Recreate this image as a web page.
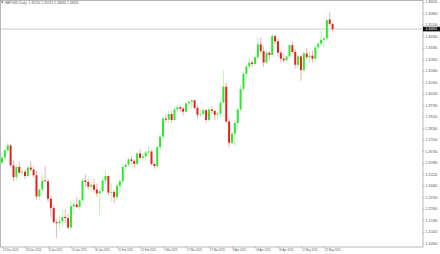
<!DOCTYPE html>
<html>
<head>
<meta charset="utf-8">
<script src="https://cdn.jsdelivr.net/npm/d3@7"></script>
<style>
  body { margin: 0; background: #fff; }
  text { font-family: 'Liberation Sans', Arial, sans-serif; }
</style>
</head>
<body>
<div id="chart"></div>
<script>
let symbolTitle = 'GBPUSD,Daily  1.35150 1.35213 1.34660 1.34811'

let dates = [
  '2024-12-13', '2024-12-16', '2024-12-17', '2024-12-18', '2024-12-19', '2024-12-20', '2024-12-23', '2024-12-24', '2024-12-26', '2024-12-27', '2024-12-30', '2024-12-31',
  '2025-01-02', '2025-01-03', '2025-01-06', '2025-01-07', '2025-01-08', '2025-01-09', '2025-01-10', '2025-01-13', '2025-01-14', '2025-01-15', '2025-01-16', '2025-01-17', '2025-01-20', '2025-01-21', '2025-01-22', '2025-01-23', '2025-01-24', '2025-01-27', '2025-01-28', '2025-01-29', '2025-01-30', '2025-01-31',
  '2025-02-03', '2025-02-04', '2025-02-05', '2025-02-06', '2025-02-07', '2025-02-10', '2025-02-11', '2025-02-12', '2025-02-13', '2025-02-14', '2025-02-17', '2025-02-18', '2025-02-19', '2025-02-20', '2025-02-21', '2025-02-24', '2025-02-25', '2025-02-26', '2025-02-27', '2025-02-28',
  '2025-03-03', '2025-03-04', '2025-03-05', '2025-03-06', '2025-03-07', '2025-03-10', '2025-03-11', '2025-03-12', '2025-03-13', '2025-03-14', '2025-03-17', '2025-03-18', '2025-03-19', '2025-03-20', '2025-03-21', '2025-03-24', '2025-03-25', '2025-03-26', '2025-03-27', '2025-03-28', '2025-03-31',
  '2025-04-01', '2025-04-02', '2025-04-03', '2025-04-04', '2025-04-07', '2025-04-08', '2025-04-09', '2025-04-10', '2025-04-11', '2025-04-14', '2025-04-15', '2025-04-16', '2025-04-17', '2025-04-18', '2025-04-21', '2025-04-22', '2025-04-23', '2025-04-24', '2025-04-25', '2025-04-28', '2025-04-29', '2025-04-30',
  '2025-05-01', '2025-05-02', '2025-05-05', '2025-05-06', '2025-05-07', '2025-05-08', '2025-05-09', '2025-05-12', '2025-05-13', '2025-05-14', '2025-05-15', '2025-05-16', '2025-05-19', '2025-05-20', '2025-05-21', '2025-05-22', '2025-05-23', '2025-05-26', '2025-05-27'
]

let open = [
  1.2598, 1.2632, 1.2680, 1.2712, 1.2580, 1.2502, 1.2570, 1.2532, 1.2538, 1.2510, 1.2566, 1.2552,
  1.2515, 1.2375, 1.2420, 1.2480, 1.2475, 1.2360, 1.2298, 1.2205, 1.2198, 1.2210, 1.2240, 1.2232, 1.2170, 1.2310, 1.2322, 1.2305, 1.2350, 1.2480, 1.2470, 1.2440, 1.2452, 1.2420,
  1.2395, 1.2410, 1.2480, 1.2510, 1.2400, 1.2405, 1.2370, 1.2445, 1.2475, 1.2570, 1.2585, 1.2620, 1.2610, 1.2590, 1.2660, 1.2630, 1.2640, 1.2665, 1.2672, 1.2590,
  1.2575, 1.2700, 1.2770, 1.2890, 1.2882, 1.2920, 1.2880, 1.2950, 1.2965, 1.2955, 1.2935, 1.2990, 1.3000, 1.3010, 1.2960, 1.2915, 1.2920, 1.2945, 1.2880, 1.2950, 1.2940,
  1.2915, 1.2922, 1.2995, 1.3100, 1.2870, 1.2730, 1.2790, 1.2860, 1.2950, 1.3085, 1.3185, 1.3235, 1.3260, 1.3250, 1.3295, 1.3380, 1.3335, 1.3260, 1.3325, 1.3310, 1.3435, 1.3400,
  1.3325, 1.3285, 1.3275, 1.3300, 1.3375, 1.3330, 1.3245, 1.3300, 1.3210, 1.3320, 1.3295, 1.3305, 1.3285, 1.3360, 1.3385, 1.3410, 1.3420, 1.3545, 1.3515
]

let high = [
  1.2668, 1.2690, 1.2730, 1.2722, 1.2612, 1.2582, 1.2605, 1.2562, 1.2552, 1.2580, 1.2608, 1.2575,
  1.2545, 1.2425, 1.2525, 1.2575, 1.2490, 1.2375, 1.2320, 1.2225, 1.2250, 1.2290, 1.2290, 1.2260, 1.2345, 1.2350, 1.2370, 1.2360, 1.2495, 1.2522, 1.2490, 1.2480, 1.2490, 1.2460,
  1.2420, 1.2500, 1.2550, 1.2515, 1.2460, 1.2420, 1.2460, 1.2490, 1.2585, 1.2600, 1.2630, 1.2640, 1.2620, 1.2670, 1.2690, 1.2660, 1.2680, 1.2710, 1.2680, 1.2600,
  1.2710, 1.2790, 1.2905, 1.2920, 1.2945, 1.2940, 1.2960, 1.2985, 1.2980, 1.2970, 1.3000, 1.3010, 1.3015, 1.3015, 1.2980, 1.2950, 1.2960, 1.2950, 1.2965, 1.2970, 1.2945,
  1.2940, 1.3010, 1.3207, 1.3125, 1.2895, 1.2800, 1.2880, 1.2960, 1.3110, 1.3200, 1.3245, 1.3295, 1.3275, 1.3305, 1.3423, 1.3423, 1.3370, 1.3340, 1.3335, 1.3445, 1.3445, 1.3420,
  1.3340, 1.3320, 1.3310, 1.3380, 1.3400, 1.3350, 1.3310, 1.3310, 1.3330, 1.3355, 1.3330, 1.3340, 1.3370, 1.3400, 1.3470, 1.3440, 1.3560, 1.3593, 1.3521
]

let low = [
  1.2582, 1.2610, 1.2660, 1.2570, 1.2475, 1.2480, 1.2520, 1.2515, 1.2490, 1.2500, 1.2540, 1.2500,
  1.2352, 1.2350, 1.2410, 1.2470, 1.2340, 1.2240, 1.2200, 1.2100, 1.2160, 1.2180, 1.2200, 1.2160, 1.2165, 1.2260, 1.2300, 1.2290, 1.2340, 1.2440, 1.2420, 1.2410, 1.2400, 1.2370,
  1.2250, 1.2400, 1.2460, 1.2380, 1.2340, 1.2330, 1.2350, 1.2400, 1.2450, 1.2550, 1.2570, 1.2590, 1.2560, 1.2580, 1.2620, 1.2610, 1.2610, 1.2640, 1.2580, 1.2560,
  1.2560, 1.2680, 1.2760, 1.2860, 1.2860, 1.2860, 1.2870, 1.2930, 1.2930, 1.2910, 1.2925, 1.2970, 1.2955, 1.2950, 1.2890, 1.2900, 1.2910, 1.2860, 1.2870, 1.2920, 1.2880,
  1.2880, 1.2900, 1.2990, 1.2860, 1.2700, 1.2715, 1.2708, 1.2820, 1.2940, 1.3070, 1.3160, 1.3220, 1.3230, 1.3240, 1.3280, 1.3320, 1.3230, 1.3250, 1.3270, 1.3300, 1.3380, 1.3300,
  1.3260, 1.3260, 1.3270, 1.3290, 1.3320, 1.3220, 1.3220, 1.3140, 1.3190, 1.3280, 1.3255, 1.3260, 1.3260, 1.3340, 1.3370, 1.3360, 1.3410, 1.3500, 1.3466
]

let close = [
  1.2632, 1.2680, 1.2712, 1.2580, 1.2502, 1.2570, 1.2532, 1.2538, 1.2510, 1.2566, 1.2552, 1.2515,
  1.2375, 1.2420, 1.2480, 1.2475, 1.2360, 1.2298, 1.2205, 1.2198, 1.2210, 1.2240, 1.2232, 1.2170, 1.2310, 1.2322, 1.2305, 1.2350, 1.2480, 1.2470, 1.2440, 1.2452, 1.2420, 1.2395,
  1.2410, 1.2480, 1.2510, 1.2400, 1.2405, 1.2370, 1.2445, 1.2475, 1.2570, 1.2585, 1.2620, 1.2610, 1.2590, 1.2660, 1.2630, 1.2640, 1.2665, 1.2672, 1.2590, 1.2575,
  1.2700, 1.2770, 1.2890, 1.2882, 1.2920, 1.2880, 1.2950, 1.2965, 1.2955, 1.2935, 1.2990, 1.3000, 1.3010, 1.2960, 1.2915, 1.2920, 1.2945, 1.2880, 1.2950, 1.2940, 1.2915,
  1.2922, 1.2995, 1.3100, 1.2870, 1.2730, 1.2790, 1.2860, 1.2950, 1.3085, 1.3185, 1.3235, 1.3260, 1.3250, 1.3295, 1.3380, 1.3335, 1.3260, 1.3325, 1.3310, 1.3435, 1.3400, 1.3325,
  1.3285, 1.3275, 1.3300, 1.3375, 1.3330, 1.3245, 1.3300, 1.3210, 1.3320, 1.3295, 1.3305, 1.3285, 1.3360, 1.3385, 1.3410, 1.3420, 1.3540, 1.3515, 1.3481
]

let tickDates = [
  '2024-12-13', '2024-12-26', '2025-01-08', '2025-01-20', '2025-01-30', '2025-02-11', '2025-02-21', '2025-03-05',
  '2025-03-17', '2025-03-27', '2025-04-08', '2025-04-18', '2025-04-30', '2025-05-12', '2025-05-22'
]

let priceTicks = [
  1.3662, 1.3586, 1.3510, 1.3434, 1.3358, 1.3282, 1.3206, 1.3130, 1.3054, 1.2978, 1.2902,
  1.2826, 1.2750, 1.2674, 1.2598, 1.2522, 1.2446, 1.2370, 1.2294, 1.2218, 1.2142, 1.2066
]

let lastPrice = 1.34811

let width = 440
let height = 254
let plot = { left: 0.5, top: 0.5, right: 423, bottom: 247 }

let upColor = '#2fe82f'
let downColor = '#ea1f1f'
let frameColor = '#9a9a9a'
let textColor = '#555'

let svg = d3
  .select('#chart')
  .append('svg')
  .attr('width', width)
  .attr('height', height)

let xPositionScale = d3
  .scalePoint()
  .domain(dates)
  .range([2, 332.6])

let yPositionScale = d3
  .scaleLinear()
  .domain([priceTicks[0], priceTicks[priceTicks.length - 1]])
  .range([1.7, 243.2])

let parseDate = d3.timeParse('%Y-%m-%d')
let formatDate = d3.timeFormat('%-d %b %Y')

let bars = dates.map((d, i) => ({
  date: d,
  open: open[i],
  high: high[i],
  low: low[i],
  close: close[i]
}))

// frame
svg
  .append('rect')
  .attr('x', plot.left)
  .attr('y', plot.top)
  .attr('width', plot.right - plot.left)
  .attr('height', plot.bottom - plot.top)
  .attr('fill', 'none')
  .attr('stroke', frameColor)
  .attr('stroke-width', 0.7)

// current price line
svg
  .append('line')
  .attr('x1', plot.left)
  .attr('x2', plot.right)
  .attr('y1', yPositionScale(lastPrice))
  .attr('y2', yPositionScale(lastPrice))
  .attr('stroke', '#b4b4b4')
  .attr('stroke-width', 0.7)

let candles = svg
  .selectAll('.candle')
  .data(bars)
  .enter()
  .append('g')
  .attr('class', 'candle')

candles
  .append('line')
  .attr('x1', d => xPositionScale(d.date))
  .attr('x2', d => xPositionScale(d.date))
  .attr('y1', d => yPositionScale(d.high))
  .attr('y2', d => yPositionScale(d.low))
  .attr('stroke', d => (d.close >= d.open ? upColor : downColor))
  .attr('stroke-width', 0.6)
  .attr('opacity', 0.6)

candles
  .append('rect')
  .attr('x', d => xPositionScale(d.date) - 1)
  .attr('width', 2)
  .attr('y', d => yPositionScale(Math.max(d.open, d.close)))
  .attr('height', d =>
    Math.max(0.7, Math.abs(yPositionScale(d.open) - yPositionScale(d.close)))
  )
  .attr('fill', d => (d.close >= d.open ? upColor : downColor))

// price axis
let yAxis = d3
  .axisRight(yPositionScale)
  .tickValues(priceTicks)
  .tickSize(1.5)
  .tickPadding(1)
  .tickFormat(d3.format('.5f'))

svg
  .append('g')
  .attr('transform', `translate(${plot.right},0)`)
  .call(yAxis)
  .call(g => g.select('.domain').remove())
  .call(g => g.selectAll('line').attr('stroke', frameColor).attr('stroke-width', 0.6))
  .call(g =>
    g
      .selectAll('text')
      .attr('fill', textColor)
      .style('font-size', '3.3px')
  )

// current price tag
let tag = svg
  .append('g')
  .attr('transform', `translate(${plot.right},${yPositionScale(lastPrice)})`)

tag
  .append('rect')
  .attr('x', 0)
  .attr('y', -2.3)
  .attr('width', 17)
  .attr('height', 4.6)
  .attr('fill', '#111')

tag
  .append('text')
  .text(d3.format('.5f')(lastPrice))
  .attr('x', 2.5)
  .attr('dy', '0.35em')
  .attr('fill', '#fff')
  .style('font-size', '3.3px')

// date axis
let xAxis = d3
  .axisBottom(xPositionScale)
  .tickValues(tickDates)
  .tickSize(1.5)
  .tickPadding(0.8)
  .tickFormat(d => formatDate(parseDate(d)))

svg
  .append('g')
  .attr('transform', `translate(0,${plot.bottom})`)
  .call(xAxis)
  .call(g => g.select('.domain').remove())
  .call(g => g.selectAll('line').attr('stroke', frameColor).attr('stroke-width', 0.6))
  .call(g =>
    g
      .selectAll('text')
      .attr('text-anchor', 'start')
      .attr('x', 0.5)
      .attr('fill', textColor)
      .style('font-size', '2.7px')
  )

// title
svg
  .append('path')
  .attr('d', 'M1.2,1.6 L3.4,1.6 L2.3,3.2 Z')
  .attr('fill', '#333')

svg
  .append('text')
  .text(symbolTitle)
  .attr('x', 4.5)
  .attr('y', 3.6)
  .attr('fill', textColor)
  .style('font-size', '3.3px')
  .style('white-space', 'pre')
</script>
</body>
</html>
